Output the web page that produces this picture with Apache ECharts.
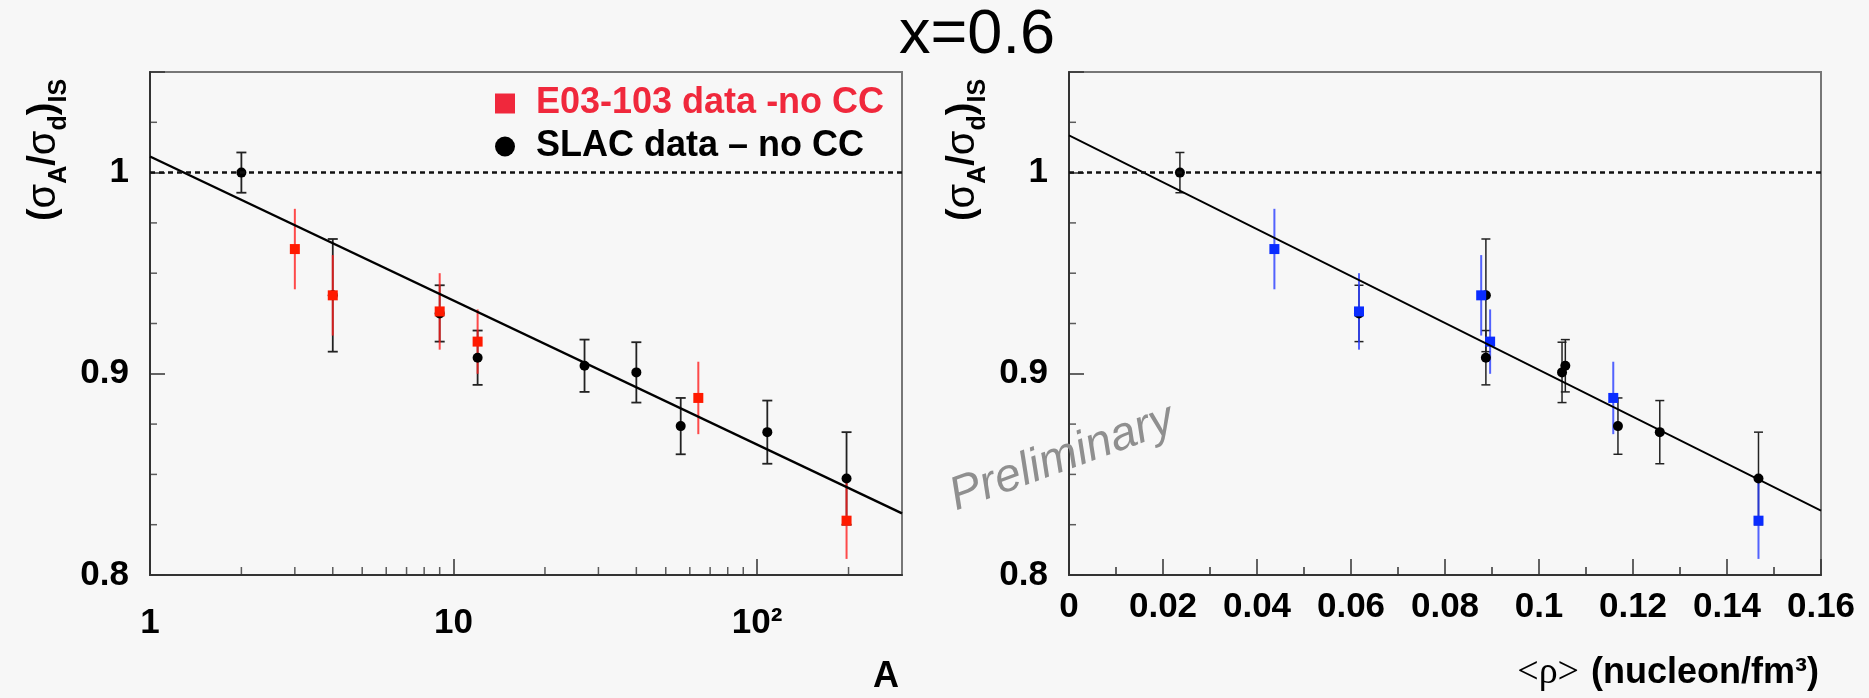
<!DOCTYPE html>
<html>
<head>
<meta charset="utf-8">
<script src="https://cdn.jsdelivr.net/npm/echarts@6/dist/echarts.min.js"></script>
<style>
html,body{margin:0;padding:0;background:#f7f7f7;}
#chart{width:1869px;height:698px;}
</style>
</head>
<body>
<div id="chart"></div>
<script>
// ---- data ----
const slacA   = [2, 4, 9, 12, 27, 40, 56, 108, 197];
const slacRho = [0.0236, 0.0887, 0.0617, 0.0887, 0.1056, 0.1049, 0.1168, 0.1257, 0.1467];
const slacR   = [1.000, 0.939, 0.930, 0.908, 0.904, 0.9007, 0.874, 0.871, 0.848];
const slacErr = [0.010, 0.028, 0.014, 0.0135, 0.013, 0.015, 0.014, 0.0157, 0.023];

const e03A    = [3, 4, 9, 12, 64, 197];
const e03Rho  = [0.0437, 0.0877, 0.0617, 0.0896, 0.1158, 0.1467];
const e03R    = [0.962, 0.939, 0.931, 0.916, 0.888, 0.827];
const e03Err  = [0.020, 0.020, 0.019, 0.016, 0.018, 0.019];

const fitLeftA    = [1, 300];
const fitLeftR    = [1.008, 0.8306];
const fitRightRho = [0, 0.16];
const fitRightR   = [1.0185, 0.832];

const unityLevel = 1;

const yTicks = [0.8, 0.9, 1];
const yTickLabels = ['0.8', '0.9', '1'];
const yMinorTicks = [0.825, 0.85, 0.875, 0.925, 0.95, 0.975, 1.025];
const xLeftTicks = [1, 10, 100];
const xLeftTickLabels = ['1', '10', '10\u00b2'];
const xLeftMinorTicks = [2, 3, 4, 5, 6, 7, 8, 9, 20, 30, 40, 50, 60, 70, 80, 90, 200];

const nameE03 = 'E03-103 data -no CC';
const nameSLAC = 'SLAC data \u2013 no CC';

// ---- helpers ----
const FONT = 'Liberation Sans';
function zip3(a, b, c) { return a.map((v, i) => c ? [v, b[i], c[i]] : [v, b[i]]); }

function errRender(color, width, cap) {
  return function (params, api) {
    const x = api.value(0), y = api.value(1), e = api.value(2);
    const t = api.coord([x, y + e]);
    const b = api.coord([x, y - e]);
    const st = { stroke: color, lineWidth: width };
    const ch = [{ type: 'line', shape: { x1: t[0], y1: t[1], x2: b[0], y2: b[1] }, style: st }];
    if (cap > 0) {
      ch.push({ type: 'line', shape: { x1: t[0] - cap / 2, y1: t[1], x2: t[0] + cap / 2, y2: t[1] }, style: st });
      ch.push({ type: 'line', shape: { x1: b[0] - cap / 2, y1: b[1], x2: b[0] + cap / 2, y2: b[1] }, style: st });
    }
    return { type: 'group', children: ch };
  };
}

function yLabelFmt(v) {
  const i = yTicks.findIndex(t => Math.abs(t - v) < 1e-6);
  return i >= 0 ? yTickLabels[i] : '';
}
function xLogLabelFmt(v) {
  const i = xLeftTicks.findIndex(t => Math.abs(t - v) < 1e-6 * t);
  return i >= 0 ? xLeftTickLabels[i] : '';
}

const tickColor = '#333';
const labelStyle = { fontFamily: FONT, fontWeight: 'bold', fontSize: 35, color: '#000' };

function yAxisDef(idx) {
  return {
    gridIndex: idx, type: 'value', min: 0.8, max: 1.05, interval: 0.1,
    axisLine: { show: true, lineStyle: { color: '#333', width: 2 } },
    axisTick: { show: true, inside: true, length: 15, lineStyle: { color: tickColor, width: 1.5 } },
    splitLine: { show: false },
    axisLabel: Object.assign({ margin: 21, formatter: yLabelFmt }, labelStyle)
  };
}

const minorTickStyle = { color: tickColor };

const option = {
  backgroundColor: '#f7f7f7',
  animation: false,
  grid: [
    { left: 150, top: 72, width: 752, height: 503, show: true, borderColor: '#777', borderWidth: 2, backgroundColor: 'transparent' },
    { left: 1069, top: 72, width: 752, height: 503, show: true, borderColor: '#777', borderWidth: 2, backgroundColor: 'transparent' }
  ],
  xAxis: [
    {
      gridIndex: 0, type: 'log', logBase: 10, min: 1, max: 300,
      axisLine: { show: true, lineStyle: { color: '#333', width: 2 } },
      axisTick: { show: true, inside: true, length: 16, lineStyle: { color: tickColor, width: 1.5 } },
      minorTick: { show: false },
      splitLine: { show: false },
      axisLabel: Object.assign({ margin: 31, formatter: xLogLabelFmt, showMaxLabel: false }, labelStyle)
    },
    {
      gridIndex: 1, type: 'value', min: 0, max: 0.16, interval: 0.02,
      axisLine: { show: true, lineStyle: { color: '#333', width: 2 } },
      axisTick: { show: true, inside: true, length: 16, lineStyle: { color: tickColor, width: 1.5 } },
      minorTick: { show: true, splitNumber: 2, length: 8, lineStyle: { color: tickColor, width: 1.5 } },
      splitLine: { show: false },
      axisLabel: Object.assign({ margin: 15 }, labelStyle)
    }
  ],
  yAxis: [yAxisDef(0), yAxisDef(1)],
  legend: {
    orient: 'vertical', left: 490, top: 80,
    itemWidth: 20, itemHeight: 20, itemGap: 6,
    textStyle: { fontFamily: FONT, fontWeight: 'bold', fontSize: 36, lineHeight: 37, padding: [0, 0, 0, 16] },
    data: [
      { name: nameE03, icon: 'rect', textStyle: { color: '#f0283c' }, itemStyle: { color: '#f0283c' } },
      { name: nameSLAC, icon: 'circle', textStyle: { color: '#000' } }
    ],
    selectedMode: false
  },
  series: [
    // ---- left panel ----
    { type: 'custom', name: 'slacErrL', xAxisIndex: 0, yAxisIndex: 0, renderItem: errRender('#222', 1.8, 10),
      data: zip3(slacA, slacR, slacErr), encode: { x: 0, y: 1 }, silent: true },
    { type: 'scatter', name: nameSLAC, xAxisIndex: 0, yAxisIndex: 0, symbol: 'circle', symbolSize: 10,
      itemStyle: { color: '#000', opacity: 1 }, data: zip3(slacA, slacR) },
    { type: 'custom', name: 'e03ErrL', xAxisIndex: 0, yAxisIndex: 0, renderItem: errRender('rgba(255,30,30,0.8)', 2, 0),
      data: zip3(e03A, e03R, e03Err), encode: { x: 0, y: 1 }, silent: true },
    { type: 'scatter', name: nameE03, xAxisIndex: 0, yAxisIndex: 0, symbol: 'rect', symbolSize: 10,
      itemStyle: { color: '#ff1a00', opacity: 1 }, data: zip3(e03A, e03R) },
    { type: 'line', name: 'fitL', xAxisIndex: 0, yAxisIndex: 0, showSymbol: false, symbol: 'none', z: 3,
      lineStyle: { color: '#000', width: 2.4 }, data: zip3(fitLeftA, fitLeftR),
      markLine: { silent: true, symbol: 'none', label: { show: false },
        lineStyle: { color: '#111', type: [5, 4], width: 2.5 }, data: [{ yAxis: unityLevel }] } },
    { type: 'scatter', name: 'xMinorL', xAxisIndex: 0, yAxisIndex: 0, symbol: 'rect', symbolSize: [1.5, 8], symbolOffset: [0, -4],
      itemStyle: minorTickStyle, silent: true, z: 4, data: xLeftMinorTicks.map(v => [v, 0.8]) },
    { type: 'scatter', name: 'yMinorL', xAxisIndex: 0, yAxisIndex: 0, symbol: 'rect', symbolSize: [7, 1.5], symbolOffset: [3.5, 0],
      itemStyle: minorTickStyle, silent: true, z: 4, data: yMinorTicks.map(v => [1, v]) },

    // ---- right panel ----
    { type: 'custom', name: 'slacErrR', xAxisIndex: 1, yAxisIndex: 1, renderItem: errRender('#222', 1.5, 9),
      data: zip3(slacRho, slacR, slacErr), encode: { x: 0, y: 1 }, silent: true },
    { type: 'scatter', name: 'slacRho', xAxisIndex: 1, yAxisIndex: 1, symbol: 'circle', symbolSize: 10,
      itemStyle: { color: '#000', opacity: 1 }, data: zip3(slacRho, slacR) },
    { type: 'custom', name: 'e03ErrR', xAxisIndex: 1, yAxisIndex: 1, renderItem: errRender('rgba(40,60,255,0.8)', 2, 0),
      data: zip3(e03Rho, e03R, e03Err), encode: { x: 0, y: 1 }, silent: true },
    { type: 'scatter', name: 'e03Rho', xAxisIndex: 1, yAxisIndex: 1, symbol: 'rect', symbolSize: 10,
      itemStyle: { color: '#0a2cff', opacity: 1 }, data: zip3(e03Rho, e03R) },
    { type: 'line', name: 'fitR', xAxisIndex: 1, yAxisIndex: 1, showSymbol: false, symbol: 'none', z: 3,
      lineStyle: { color: '#000', width: 1.8 }, data: zip3(fitRightRho, fitRightR),
      markLine: { silent: true, symbol: 'none', label: { show: false },
        lineStyle: { color: '#111', type: [5, 4], width: 2.5 }, data: [{ yAxis: unityLevel }] } },
    { type: 'scatter', name: 'yMinorR', xAxisIndex: 1, yAxisIndex: 1, symbol: 'rect', symbolSize: [7, 1.5], symbolOffset: [3.5, 0],
      itemStyle: minorTickStyle, silent: true, z: 4, data: yMinorTicks.map(v => [0, v]) }
  ],
  graphic: [
    { type: 'text', x: 977, y: 36, z: 10,
      style: { text: 'x=0.6', fontFamily: FONT, fontSize: 63, fill: '#000', align: 'center', verticalAlign: 'middle' } },
    { type: 'text', x: 886, y: 677, z: 10,
      style: { text: 'A', fontFamily: FONT, fontWeight: 'bold', fontSize: 36, fill: '#000', align: 'center', verticalAlign: 'middle' } },
    { type: 'text', x: 1819, y: 673, z: 10,
      style: { text: '{r|<\u03c1>}{b|(nucleon/fm\u00b3)}', align: 'right', verticalAlign: 'middle',
        rich: {
          r: { fontFamily: 'Liberation Serif', fontSize: 38, fill: '#000', padding: [0, 12, 0, 0] },
          b: { fontFamily: FONT, fontWeight: 'bold', fontSize: 36, fill: '#000' }
        } } },
    { type: 'text', x: 1062, y: 458, rotation: 20 * Math.PI / 180, z: 10,
      style: { text: 'Preliminary', fontFamily: FONT, fontStyle: 'italic', fontSize: 47, fill: '#8f8f8f', align: 'center', verticalAlign: 'middle' } },
  ].concat([44, 963].map(cx => ({
    type: 'text', x: cx, y: 150, rotation: Math.PI / 2, z: 10,
    style: {
      text: '{p|(}{s|\u03c3}{sub|A}{p|/}{s|\u03c3}{sub|d}{p|)}{sub|IS}',
      align: 'center', verticalAlign: 'middle',
      rich: {
        p: { fontFamily: FONT, fontWeight: 'bold', fontSize: 38, lineHeight: 56, fill: '#000' },
        s: { fontFamily: FONT, fontSize: 40, lineHeight: 56, fill: '#000' },
        sub: { fontFamily: FONT, fontWeight: 'bold', fontSize: 25, lineHeight: 25, verticalAlign: 'bottom', fill: '#000' }
      }
    }
  })))
};

const chart = echarts.init(document.getElementById('chart'), null, { renderer: 'canvas' });
chart.setOption(option);
</script>
</body>
</html>
